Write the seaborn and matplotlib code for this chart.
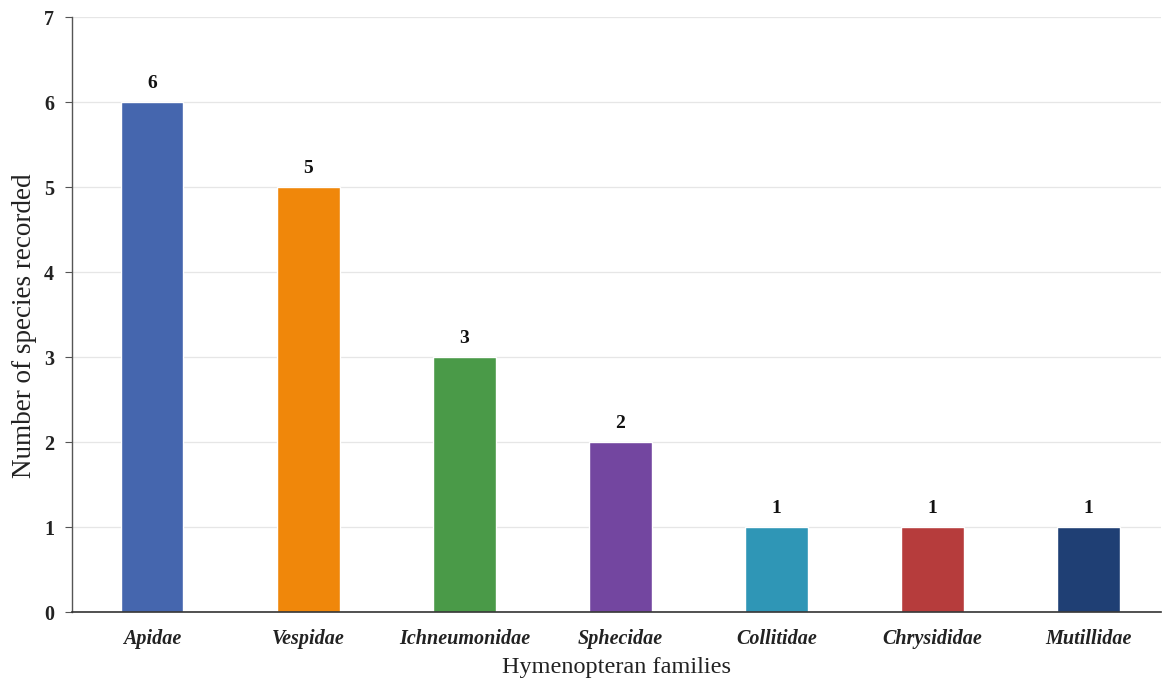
import matplotlib
matplotlib.use("Agg")
import matplotlib.pyplot as plt
import seaborn as sns
import pandas as pd

families = ["Apidae", "Vespidae", "Ichneumonidae", "Sphecidae",
            "Collitidae", "Chrysididae", "Mutillidae"]
species_counts = [6, 5, 3, 2, 1, 1, 1]
bar_colors = ["#4566ae", "#f0870a", "#4a9a48", "#7346a0",
              "#2f96b6", "#b63c3c", "#1f3f74"]

sns.set_theme(style="white")
plt.rcParams["font.family"] = ["Liberation Serif", "DejaVu Serif"]

df = pd.DataFrame({"family": families, "count": species_counts})

fig = plt.figure(figsize=(11.64, 6.84), dpi=100)
ax = fig.add_axes([0.062, 0.105, 0.935, 0.870])

sns.barplot(data=df, x="family", y="count", hue="family", palette=bar_colors,
            width=0.4, legend=False, ax=ax, saturation=1)

for i, v in enumerate(species_counts):
    ax.text(i, v + 0.12, str(v), ha="center", va="bottom",
            fontsize=14, fontweight="bold", color="#111111")

ax.set_ylim(0, 7)
ax.set_xlim(-0.513, 6.46)
ax.set_yticks(range(0, 8))
ax.yaxis.grid(True, color="#e6e6e6", linewidth=0.9)
ax.set_axisbelow(True)

for s in ["top", "right"]:
    ax.spines[s].set_visible(False)
ax.spines["left"].set_color("#555555")
ax.spines["bottom"].set_color("#333333")
ax.spines["left"].set_linewidth(1.0)
ax.spines["bottom"].set_linewidth(1.2)

ax.tick_params(axis="y", left=True, length=5, width=0.8, color="#555555",
               labelsize=14.5, pad=8, labelcolor="#222222")
ax.tick_params(axis="x", bottom=False, labelsize=14.5, pad=6, labelcolor="#222222")
for lbl in ax.get_yticklabels():
    lbl.set_fontweight("bold")
for lbl in ax.get_xticklabels():
    lbl.set_fontweight("bold")
    lbl.set_fontstyle("italic")

ax.set_xlabel("Hymenopteran families", fontsize=17.5, labelpad=6, color="#222222")
ax.set_ylabel("Number of species recorded", fontsize=19.5, color="#222222")
ax.yaxis.set_label_coords(-0.032, 0.482)

fig.savefig("out.png", dpi=100)
